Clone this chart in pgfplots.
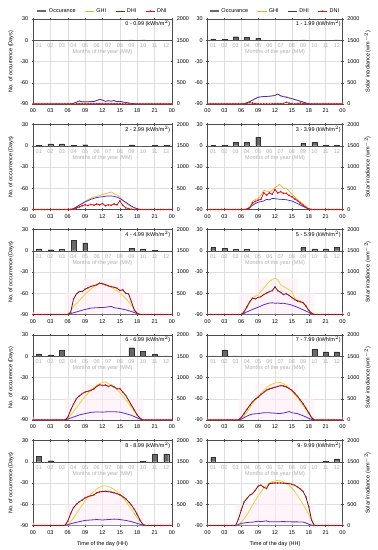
\documentclass[border=0pt]{standalone}
\usepackage{fontspec}
\setmainfont{Liberation Sans}
\usepackage{pgfplots}
\pgfplotsset{compat=1.18}
\newcommand\fs{\fontsize{5.5}{6.5}\selectfont}
\definecolor{barfill}{RGB}{105,105,105}
\definecolor{cghiA}{RGB}{255,170,40}
\definecolor{cghiB}{RGB}{238,210,60}
\definecolor{cdhiA}{RGB}{40,40,220}
\definecolor{cdhiB}{RGB}{85,45,215}
\definecolor{cdniA}{RGB}{230,20,20}
\definecolor{cdniC}{RGB}{175,20,25}
\definecolor{cdniB}{RGB}{85,30,22}
\definecolor{mgray}{RGB}{175,175,175}
\definecolor{pinkbg}{RGB}{254,236,247}
\tikzset{mlab/.style={font=\fs, text=mgray, inner sep=0pt},
 plab/.style={font=\fs, anchor=north east, inner sep=1.5pt}}
\pgfplotsset{
 base/.style={scale only axis, height=85pt, xmin=0, xmax=24, xtick={0,3,...,24},
  axis line style={black!70,line width=0.4pt}, tick style={black!70,line width=0.4pt},
  major tick length=2.5pt, tick align=center, font=\fs,
  /pgf/number format/assume math mode=true, ticklabel style={font=\fs}, label style={font=\fs}},
 barax/.style={base, ymin=-90, ymax=30, ytick={-90,-60,-30,0,30}, ytick pos=left,
  xticklabels={00,03,06,09,12,15,18,21,00}, grid=major, major grid style={black!13,line width=0.35pt}},
 lineax/.style={base, ymin=0, ymax=2000, ytick={0,500,1000,1500,2000}, axis y line*=right,
  axis x line=none, yticklabel style={/pgf/number format/1000 sep={}}},
 leftcol/.style={width=139pt},
 rightcol/.style={width=135pt},
 bars/.style={ybar, bar width=0.85, fill=barfill, draw=black!80, line width=0.3pt},
 sghiA/.style={cghiA, line width=0.7pt},
 sghiB/.style={cghiB, line width=0.8pt},
 sdhiA/.style={cdhiA, line width=0.7pt},
 sdhiB/.style={cdhiB, line width=0.8pt},
 sdniA/.style={cdniA, line width=0.7pt, mark=*, mark size=0.45pt, mark options={fill=cdniA,draw=cdniA}},
 sdniC/.style={cdniC, line width=0.7pt, mark=*, mark size=0.45pt, mark options={fill=cdniA,draw=cdniA}},
 sdniB/.style={cdniB, line width=0.8pt, mark=*, mark size=0.3pt, mark options={fill=cdniA,draw=cdniA}},
 pinkarea/.style={fill=pinkbg, fill opacity=0.6, draw=none, forget plot},
 toplegend/.style={legend style={at={(0.5,1)}, anchor=south, yshift=3pt, legend columns=4, draw=none, fill=none,
   font=\fs, inner sep=0pt, /tikz/every even column/.append style={column sep=7pt}},
   legend image code/.code={\draw[mark repeat=2,mark phase=2,##1] plot coordinates {(0cm,0cm) (0.16cm,0cm) (0.32cm,0cm)};}},
}
\newcommand\monthlabels{%
 \draw[black!65,line width=0.4pt] (axis cs:0,0) -- (axis cs:24,0);
 \node[mlab] at (axis cs:1,-8) {01}; \node[mlab] at (axis cs:3,-8) {02};
 \node[mlab] at (axis cs:5,-8) {03}; \node[mlab] at (axis cs:7,-8) {04};
 \node[mlab] at (axis cs:9,-8) {05}; \node[mlab] at (axis cs:11,-8) {06};
 \node[mlab] at (axis cs:13,-8) {07}; \node[mlab] at (axis cs:15,-8) {08};
 \node[mlab] at (axis cs:17,-8) {09}; \node[mlab] at (axis cs:19,-8) {10};
 \node[mlab] at (axis cs:21,-8) {11}; \node[mlab] at (axis cs:23,-8) {12};
 \node[mlab] at (axis cs:12,-17) {Months of the year (MM)};}
\begin{document}
\begin{tikzpicture}[x=1pt,y=1pt]
\useasboundingbox (0,0) rectangle (378,550);
% ---------------- P0
\begin{axis}[barax, leftcol, at={(33pt,446pt)}, anchor=south west, ylabel={No. of occurrence (Days)}]
\addplot[bars] coordinates {(17,0.4)(19,0.4)};
\monthlabels
\node[plab] at (rel axis cs:1,1) {0 - 0.99 (kWh/m$^2$)};
\end{axis}
\begin{axis}[lineax, leftcol, at={(33pt,446pt)}, anchor=south west, toplegend]
\addlegendimage{line width=1.6pt, barfill}
\addplot[sghiA] coordinates {(0,0)(6.5,0)(7,15)(7.5,40)(8,60)(8.5,45)(9,48)(9.5,45)(10,55)(10.5,52)(11,75)(11.5,100)(12,85)(12.5,60)(13,70)(13.5,62)(14,75)(14.5,52)(15,55)(15.5,42)(16,32)(16.5,22)(17,12)(17.5,5)(18,0)(24,0)};
\addplot[sdhiA] coordinates {(0,0)(6.5,0)(7,18)(7.5,45)(8,75)(8.5,50)(9,55)(9.5,50)(10,62)(10.5,58)(11,82)(11.5,110)(12,92)(12.5,65)(13,78)(13.5,68)(14,82)(14.5,58)(15,62)(15.5,48)(16,38)(16.5,26)(17,15)(17.5,6)(18,0)(24,0)};
\addplot[sdniA] coordinates {(0,0)(0.5,0)(1,0)(1.5,0)(2,0)(2.5,0)(3,0)(3.5,0)(4,0)(4.5,0)(5,0)(5.5,0)(6,0)(6.5,0)(7,0)(7.5,3)(8,6)(8.5,3)(9,4)(9.5,3)(10,5)(10.5,4)(11,8)(11.5,10)(12,6)(12.5,4)(13,5)(13.5,4)(14,7)(14.5,3)(15,4)(15.5,2)(16,1)(16.5,0)(17,0)(17.5,0)(18,0)(18.5,0)(19,0)(19.5,0)(20,0)(20.5,0)(21,0)(21.5,0)(22,0)(22.5,0)(23,0)(23.5,0)(24,0)};
\legend{Occurance,GHI,DHI,DNI}
\end{axis}
% ---------------- P1
\begin{axis}[barax, rightcol, at={(207.5pt,446pt)}, anchor=south west]
\addplot[bars] coordinates {(1,1.5)(3,1.5)(5,5)(7,4)(9,3)(17,0.5)(23,0.5)};
\monthlabels
\node[plab] at (rel axis cs:1,1) {1 - 1.99 (kWh/m$^2$)};
\end{axis}
\begin{axis}[lineax, rightcol, at={(207.5pt,446pt)}, anchor=south west, toplegend, ylabel={Solar irradiance (wm$^{-2}$)}, ylabel style={yshift=2pt}]
\addlegendimage{line width=1.6pt, barfill}
\addplot[sghiA] coordinates {(0,0)(6,0)(6.5,8)(7,32)(7.5,60)(8,95)(8.5,130)(9,160)(9.5,170)(10,178)(10.5,180)(11,185)(11.5,192)(12,205)(12.5,238)(13,200)(13.5,185)(14,175)(14.5,150)(15,130)(15.5,108)(16,90)(16.5,68)(17,48)(17.5,26)(18,6)(18.5,0)(24,0)};
\addplot[sdhiA] coordinates {(0,0)(6,0)(6.5,8)(7,30)(7.5,55)(8,90)(8.5,125)(9,157)(9.5,168)(10,175)(10.5,178)(11,182)(11.5,190)(12,200)(12.5,235)(13,190)(13.5,170)(14,160)(14.5,140)(15,125)(15.5,105)(16,86)(16.5,65)(17,45)(17.5,24)(18,5)(18.5,0)(24,0)};
\addplot[sdniA] coordinates {(0,0)(0.5,0)(1,0)(1.5,0)(2,0)(2.5,0)(3,0)(3.5,0)(4,0)(4.5,0)(5,0)(5.5,0)(6,0)(6.5,0)(7,15)(7.5,30)(8,20)(8.5,8)(9,3)(9.5,2)(10,2)(10.5,3)(11,2)(11.5,4)(12,5)(12.5,8)(13,5)(13.5,10)(14,40)(14.5,20)(15,3)(15.5,2)(16,8)(16.5,25)(17,15)(17.5,5)(18,0)(18.5,0)(19,0)(19.5,0)(20,0)(20.5,0)(21,0)(21.5,0)(22,0)(22.5,0)(23,0)(23.5,0)(24,0)};
\legend{Occurance,GHI,DHI,DNI}
\end{axis}
% ---------------- P2
\begin{axis}[barax, leftcol, at={(33pt,340.5pt)}, anchor=south west, ylabel={No. of occurrence (Days)}]
\addplot[bars] coordinates {(1,0.3)(3,2.5)(5,2.5)(7,1)(9,1.5)(17,1.2)(21,0.4)(23,0.4)};
\monthlabels
\node[plab] at (rel axis cs:1,1) {2 - 2.99 (kWh/m$^2$)};
\end{axis}
\begin{axis}[lineax, leftcol, at={(33pt,340.5pt)}, anchor=south west]
\addplot[sghiA] coordinates {(0,0)(6,0)(6.5,5)(7,24)(7.5,65)(8,111)(8.5,150)(9,190)(9.5,230)(10,270)(10.5,290)(11,310)(11.5,330)(12,350)(12.5,370)(13,390)(13.5,413)(14,373)(14.5,340)(15,294)(15.5,220)(16,150)(16.5,100)(17,63)(17.5,35)(18,16)(18.5,0)(24,0)};
\addplot[sdhiA] coordinates {(0,0)(6,0)(6.5,5)(7,20)(7.5,60)(8,100)(8.5,140)(9,180)(9.5,210)(10,240)(10.5,262)(11,280)(11.5,292)(12,300)(12.5,312)(13,320)(13.5,318)(14,310)(14.5,290)(15,260)(15.5,214)(16,170)(16.5,125)(17,80)(17.5,45)(18,20)(18.5,0)(24,0)};
\addplot[sdniC] coordinates {(0,0)(0.5,0)(1,0)(1.5,0)(2,0)(2.5,0)(3,0)(3.5,0)(4,0)(4.5,0)(5,0)(5.5,0)(6,0)(6.5,0)(7,10)(7.5,35)(8,60)(8.5,90)(9,110)(9.5,95)(10,120)(10.5,100)(11,130)(11.5,110)(12,140)(12.5,90)(13,110)(13.5,100)(14,130)(14.5,110)(15,200)(15.5,100)(16,40)(16.5,20)(17,5)(17.5,0)(18,0)(18.5,0)(19,0)(19.5,0)(20,0)(20.5,0)(21,0)(21.5,0)(22,0)(22.5,0)(23,0)(23.5,0)(24,0)};
\end{axis}
% ---------------- P3
\begin{axis}[barax, rightcol, at={(207.5pt,340.5pt)}, anchor=south west]
\addplot[bars] coordinates {(1,0.5)(3,1)(5,4.5)(7,4.5)(9,12)(17,3)(19,4.5)(21,1)(23,0.5)};
\monthlabels
\node[plab] at (rel axis cs:1,1) {3 - 3.99 (kWh/m$^2$)};
\end{axis}
\begin{axis}[lineax, rightcol, at={(207.5pt,340.5pt)}, anchor=south west, ylabel={Solar irradiance (wm$^{-2}$)}, ylabel style={yshift=2pt}]
\addplot[sghiA] coordinates {(0,0)(6.5,0)(7,15)(7.5,60)(8,195)(8.5,235)(9,258)(9.5,330)(10,453)(10.5,430)(11,414)(11.5,450)(12,515)(12.5,560)(12.8,594)(13.2,540)(13.5,500)(14,500)(14.5,430)(15,360)(15.5,300)(16,230)(16.5,180)(17,120)(17.5,70)(18,23)(18.5,0)(24,0)};
\addplot[sdhiA] coordinates {(0,0)(6.5,0)(7,10)(7.5,50)(8,100)(8.5,140)(9,170)(9.5,185)(10,200)(10.5,240)(11,225)(11.5,260)(12,255)(12.5,245)(13,240)(13.5,235)(14,230)(14.5,215)(15,200)(15.5,170)(16,140)(16.5,105)(17,70)(17.5,40)(18,15)(18.5,0)(24,0)};
\addplot[sdniC] coordinates {(0,0)(0.5,0)(1,0)(1.5,0)(2,0)(2.5,0)(3,0)(3.5,0)(4,0)(4.5,0)(5,0)(5.5,0)(6,0)(6.5,0)(7,5)(7.5,40)(8,150)(8.5,190)(9,220)(9.5,240)(10,390)(10.5,340)(11,390)(11.5,360)(12,470)(12.5,390)(13,420)(13.5,380)(14,380)(14.5,330)(15,300)(15.5,250)(16,210)(16.5,150)(17,100)(17.5,50)(18,10)(18.5,0)(19,0)(19.5,0)(20,0)(20.5,0)(21,0)(21.5,0)(22,0)(22.5,0)(23,0)(23.5,0)(24,0)};
\end{axis}
% ---------------- P4
\begin{axis}[barax, leftcol, at={(33pt,235.5pt)}, anchor=south west, ylabel={No. of occurrence (Days)}]
\addplot[bars] coordinates {(1,2.5)(3,1.5)(5,2)(7,15)(9,11)(17,3.5)(19,2.5)(21,0.5)};
\monthlabels
\node[plab] at (rel axis cs:1,1) {4 - 4.99 (kWh/m$^2$)};
\end{axis}
\begin{axis}[lineax, leftcol, at={(33pt,235.5pt)}, anchor=south west]
\addplot[pinkarea] coordinates {(0,0)(0,60)(5.5,60)(5.5,500)(8.5,500)(8.5,850)(16,850)(16,500)(19,500)(19,60)(24,60)(24,0)} \closedcycle;
\addplot[sghiB] coordinates {(0,0)(6,0)(6.5,80)(7,180)(7.5,255)(8,330)(8.5,405)(9,480)(9.5,540)(10,600)(10.5,650)(11,690)(11.5,720)(12,735)(12.5,710)(13,680)(13.5,640)(14,600)(14.5,555)(15,510)(15.5,445)(16,380)(16.5,300)(17,220)(17.5,120)(18,40)(18.5,0)(24,0)};
\addplot[sdhiB] coordinates {(0,0)(6,0)(6.5,20)(7,40)(7.5,60)(8,80)(8.5,100)(9,120)(9.5,135)(10,150)(10.5,155)(11,160)(11.5,162)(12,165)(12.5,170)(13,180)(13.5,190)(14,160)(14.5,150)(15,140)(15.5,125)(16,110)(16.5,90)(17,70)(17.5,45)(18,20)(18.5,0)(24,0)};
\addplot[sdniB] coordinates {(0,0)(0.5,0)(1,0)(1.5,0)(2,0)(2.5,0)(3,0)(3.5,0)(4,0)(4.5,0)(5,0)(5.5,0)(6,0)(6.5,50)(7,365)(7.5,484)(8,540)(8.5,540)(9,595)(9.5,630)(10,660)(10.5,680)(11,700)(11.5,738)(12,722)(12.5,700)(13,675)(13.5,655)(14,640)(14.5,620)(15,565)(15.5,580)(16,500)(16.5,484)(17,300)(17.5,100)(18,25)(18.5,0)(19,0)(19.5,0)(20,0)(20.5,0)(21,0)(21.5,0)(22,0)(22.5,0)(23,0)(23.5,0)(24,0)};
\end{axis}
% ---------------- P5
\begin{axis}[barax, rightcol, at={(207.5pt,235.5pt)}, anchor=south west]
\addplot[bars] coordinates {(1,4.5)(3,3)(5,2)(7,2)(17,4.5)(19,2.5)(21,2.5)(23,4.5)};
\monthlabels
\node[plab] at (rel axis cs:1,1) {5 - 5.99 (kWh/m$^2$)};
\end{axis}
\begin{axis}[lineax, rightcol, at={(207.5pt,235.5pt)}, anchor=south west, ylabel={Solar irradiance (wm$^{-2}$)}, ylabel style={yshift=2pt}]
\addplot[pinkarea] coordinates {(0,0)(0,60)(5.5,60)(5.5,500)(8.5,500)(8.5,850)(16,850)(16,500)(19,500)(19,60)(24,60)(24,0)} \closedcycle;
\addplot[sghiB] coordinates {(0,0)(6,0)(6.5,60)(7,150)(7.5,280)(8,397)(8.5,430)(9,460)(9.5,540)(10,620)(10.5,700)(11,778)(11.5,820)(12,857)(12.5,817)(13,700)(13.5,660)(14,620)(14.5,580)(15,540)(15.5,380)(16,340)(16.5,318)(17,262)(17.5,180)(18,103)(18.5,40)(19,0)(24,0)};
\addplot[sdhiB] coordinates {(0,0)(6,0)(6.5,25)(7,60)(7.5,90)(8,120)(8.5,145)(9,170)(9.5,200)(10,230)(10.5,250)(11,270)(11.5,275)(12,265)(12.5,270)(13,260)(13.5,265)(14,250)(14.5,240)(15,220)(15.5,195)(16,170)(16.5,140)(17,110)(17.5,80)(18,50)(18.5,15)(19,0)(24,0)};
\addplot[sdniB] coordinates {(0,0)(0.5,0)(1,0)(1.5,0)(2,0)(2.5,0)(3,0)(3.5,0)(4,0)(4.5,0)(5,0)(5.5,0)(6,0)(6.5,60)(7,180)(7.5,300)(8,380)(8.5,370)(9,400)(9.5,420)(10,470)(10.5,500)(11,540)(11.5,560)(12,650)(12.5,560)(13,520)(13.5,470)(14,490)(14.5,450)(15,400)(15.5,350)(16,320)(16.5,300)(17,280)(17.5,200)(18,100)(18.5,30)(19,0)(19.5,0)(20,0)(20.5,0)(21,0)(21.5,0)(22,0)(22.5,0)(23,0)(23.5,0)(24,0)};
\end{axis}
% ---------------- P6
\begin{axis}[barax, leftcol, at={(33pt,130pt)}, anchor=south west, ylabel={No. of occurrence (Days)}]
\addplot[bars] coordinates {(1,3.5)(3,2)(5,8.5)(17,12)(19,7)(21,3)(23,0.5)};
\monthlabels
\node[plab] at (rel axis cs:1,1) {6 - 6.99 (kWh/m$^2$)};
\end{axis}
\begin{axis}[lineax, leftcol, at={(33pt,130pt)}, anchor=south west]
\addplot[pinkarea] coordinates {(0,0)(0,60)(5.5,60)(5.5,500)(8.5,500)(8.5,850)(16,850)(16,500)(19,500)(19,60)(24,60)(24,0)} \closedcycle;
\addplot[sghiB] coordinates {(0,0)(5.5,0)(6,30)(6.5,110)(7,200)(7.5,290)(8,380)(8.5,470)(9,560)(9.5,630)(10,700)(10.5,760)(11,810)(11.5,860)(12,880)(12.5,900)(13,860)(13.5,820)(14,780)(14.5,720)(15,650)(15.5,570)(16,480)(16.5,390)(17,290)(17.5,200)(18,110)(18.5,40)(19,0)(24,0)};
\addplot[sdhiB] coordinates {(0,0)(5.5,0)(6,20)(6.5,45)(7,70)(7.5,95)(8,120)(8.5,135)(9,150)(9.5,165)(10,180)(10.5,185)(11,190)(11.5,188)(12,185)(12.5,190)(13,195)(13.5,196)(14,195)(14.5,190)(15,185)(15.5,170)(16,150)(16.5,130)(17,110)(17.5,80)(18,50)(18.5,20)(19,0)(24,0)};
\addplot[sdniB] coordinates {(0,0)(0.5,0)(1,0)(1.5,0)(2,0)(2.5,0)(3,0)(3.5,0)(4,0)(4.5,0)(5,0)(5.5,0)(6,62)(6.5,233)(7,372)(7.5,504)(8,566)(8.5,620)(9,659)(9.5,674)(10,698)(10.5,729)(11,790)(11.5,830)(12,814)(12.5,822)(13,790)(13.5,814)(14,775)(14.5,736)(15,736)(15.5,659)(16,581)(16.5,465)(17,349)(17.5,233)(18,116)(18.5,40)(19,0)(19.5,0)(20,0)(20.5,0)(21,0)(21.5,0)(22,0)(22.5,0)(23,0)(23.5,0)(24,0)};
\end{axis}
% ---------------- P7
\begin{axis}[barax, rightcol, at={(207.5pt,130pt)}, anchor=south west]
\addplot[bars] coordinates {(1,0.5)(3,9)(5,0.5)(17,0.5)(19,9.5)(21,6)(23,6)};
\monthlabels
\node[plab] at (rel axis cs:1,1) {7 - 7.99 (kWh/m$^2$)};
\end{axis}
\begin{axis}[lineax, rightcol, at={(207.5pt,130pt)}, anchor=south west, ylabel={Solar irradiance (wm$^{-2}$)}, ylabel style={yshift=2pt}]
\addplot[pinkarea] coordinates {(0,0)(0,60)(5.5,60)(5.5,500)(8.5,500)(8.5,850)(16,850)(16,500)(19,500)(19,60)(24,60)(24,0)} \closedcycle;
\addplot[sghiB] coordinates {(0,0)(5.5,0)(6,20)(6.5,90)(7,180)(7.5,280)(8,380)(8.5,470)(9,550)(9.5,630)(10,700)(10.5,760)(11,810)(11.5,845)(12,870)(12.5,878)(13,880)(13.5,860)(14,810)(14.5,750)(15,680)(15.5,600)(16,520)(16.5,430)(17,340)(17.5,240)(18,140)(18.5,50)(19,0)(24,0)};
\addplot[sdhiB] coordinates {(0,0)(5.5,0)(6,20)(6.5,55)(7,90)(7.5,120)(8,140)(8.5,145)(9,150)(9.5,160)(10,170)(10.5,172)(11,170)(11.5,165)(12,160)(12.5,155)(13,155)(13.5,165)(14,180)(14.5,200)(15,170)(15.5,160)(16,150)(16.5,125)(17,100)(17.5,70)(18,40)(18.5,15)(19,0)(24,0)};
\addplot[sdniB] coordinates {(0,0)(0.5,0)(1,0)(1.5,0)(2,0)(2.5,0)(3,0)(3.5,0)(4,0)(4.5,0)(5,0)(5.5,0)(6,60)(6.5,150)(7,250)(7.5,340)(8,430)(8.5,490)(9,540)(9.5,600)(10,650)(10.5,700)(11,730)(11.5,750)(12,770)(12.5,790)(13,810)(13.5,800)(14,780)(14.5,740)(15,700)(15.5,630)(16,560)(16.5,470)(17,380)(17.5,280)(18,170)(18.5,60)(19,0)(19.5,0)(20,0)(20.5,0)(21,0)(21.5,0)(22,0)(22.5,0)(23,0)(23.5,0)(24,0)};
\end{axis}
% ---------------- P8
\begin{axis}[barax, leftcol, at={(33pt,24.5pt)}, anchor=south west, ylabel={No. of occurrence (Days)}, xlabel={Time of the day (HH)}]
\addplot[bars] coordinates {(1,8)(3,1.5)(19,0.8)(21,11)(23,11)};
\monthlabels
\node[plab] at (rel axis cs:1,1) {8 - 8.99 (kWh/m$^2$)};
\end{axis}
\begin{axis}[lineax, leftcol, at={(33pt,24.5pt)}, anchor=south west]
\addplot[pinkarea] coordinates {(0,0)(0,60)(5.5,60)(5.5,500)(8.5,500)(8.5,850)(16,850)(16,500)(19,500)(19,60)(24,60)(24,0)} \closedcycle;
\addplot[sghiB] coordinates {(0,0)(5.5,0)(6,20)(6.5,90)(7,180)(7.5,280)(8,380)(8.5,480)(9,580)(9.5,660)(10,740)(10.5,800)(11,860)(11.5,900)(12,930)(12.5,935)(13,920)(13.5,890)(14,850)(14.5,800)(15,740)(15.5,660)(16,580)(16.5,480)(17,380)(17.5,280)(18,180)(18.5,100)(19,30)(19.5,0)(24,0)};
\addplot[sdhiB] coordinates {(0,0)(5.5,0)(6,20)(6.5,40)(7,60)(7.5,75)(8,90)(8.5,105)(9,120)(9.5,125)(10,130)(10.5,135)(11,140)(11.5,135)(12,130)(12.5,135)(13,140)(13.5,145)(14,150)(14.5,148)(15,140)(15.5,130)(16,120)(16.5,105)(17,90)(17.5,70)(18,50)(18.5,30)(19,10)(19.5,0)(24,0)};
\addplot[sdniB] coordinates {(0,0)(0.5,0)(1,0)(1.5,0)(2,0)(2.5,0)(3,0)(3.5,0)(4,0)(4.5,0)(5,0)(5.5,0)(6,100)(6.5,280)(7,420)(7.5,500)(8,560)(8.5,600)(9,650)(9.5,680)(10,700)(10.5,720)(11,770)(11.5,790)(12,800)(12.5,805)(13,800)(13.5,785)(14,770)(14.5,750)(15,720)(15.5,680)(16,630)(16.5,560)(17,480)(17.5,380)(18,260)(18.5,120)(19,20)(19.5,0)(20,0)(20.5,0)(21,0)(21.5,0)(22,0)(22.5,0)(23,0)(23.5,0)(24,0)};
\end{axis}
% ---------------- P9
\begin{axis}[barax, rightcol, at={(207.5pt,24.5pt)}, anchor=south west, xlabel={Time of the day (HH)}]
\addplot[bars] coordinates {(1,6)(21,1)(23,4)};
\monthlabels
\node[plab] at (rel axis cs:1,1) {9- 9.99 (kWh/m$^2$)};
\end{axis}
\begin{axis}[lineax, rightcol, at={(207.5pt,24.5pt)}, anchor=south west, ylabel={Solar irradiance (wm$^{-2}$)}, ylabel style={yshift=2pt}]
\addplot[pinkarea] coordinates {(0,0)(0,60)(5,60)(5,500)(8.5,500)(8.5,850)(16,850)(16,500)(19,500)(19,60)(24,60)(24,0)} \closedcycle;
\addplot[sghiB] coordinates {(0,0)(5,0)(5.5,30)(6,80)(6.5,160)(7,250)(7.5,360)(8,480)(8.5,590)(9,700)(9.5,790)(10,880)(10.5,940)(11,990)(11.5,1030)(12,1050)(12.5,1060)(13,1050)(13.5,1025)(14,990)(14.5,940)(15,880)(15.5,800)(16,700)(16.5,600)(17,500)(17.5,380)(18,260)(18.5,130)(19,0)(24,0)};
\addplot[sdhiB] coordinates {(0,0)(5,0)(5.5,20)(6,50)(6.5,60)(7,70)(7.5,75)(8,80)(8.5,90)(9,100)(9.5,90)(10,100)(10.5,110)(11,85)(11.5,88)(12,90)(12.5,90)(13,90)(13.5,92)(14,90)(14.5,88)(15,85)(15.5,85)(16,85)(16.5,82)(17,80)(17.5,60)(18,30)(18.5,10)(19,0)(24,0)};
\addplot[sdniB] coordinates {(0,0)(0.5,0)(1,0)(1.5,0)(2,0)(2.5,0)(3,0)(3.5,0)(4,0)(4.5,0)(5,0)(5.5,150)(6,360)(6.5,555)(7,635)(7.5,710)(8,750)(8.5,830)(9,925)(9.5,950)(10,900)(10.5,870)(11,985)(11.5,995)(12,1000)(12.5,1000)(13,1000)(13.5,995)(14,990)(14.5,985)(15,970)(15.5,945)(16,910)(16.5,860)(17,800)(17.5,670)(18,440)(18.5,125)(19,0)(19.5,0)(20,0)(20.5,0)(21,0)(21.5,0)(22,0)(22.5,0)(23,0)(23.5,0)(24,0)};
\end{axis}
\end{tikzpicture}
\end{document}
